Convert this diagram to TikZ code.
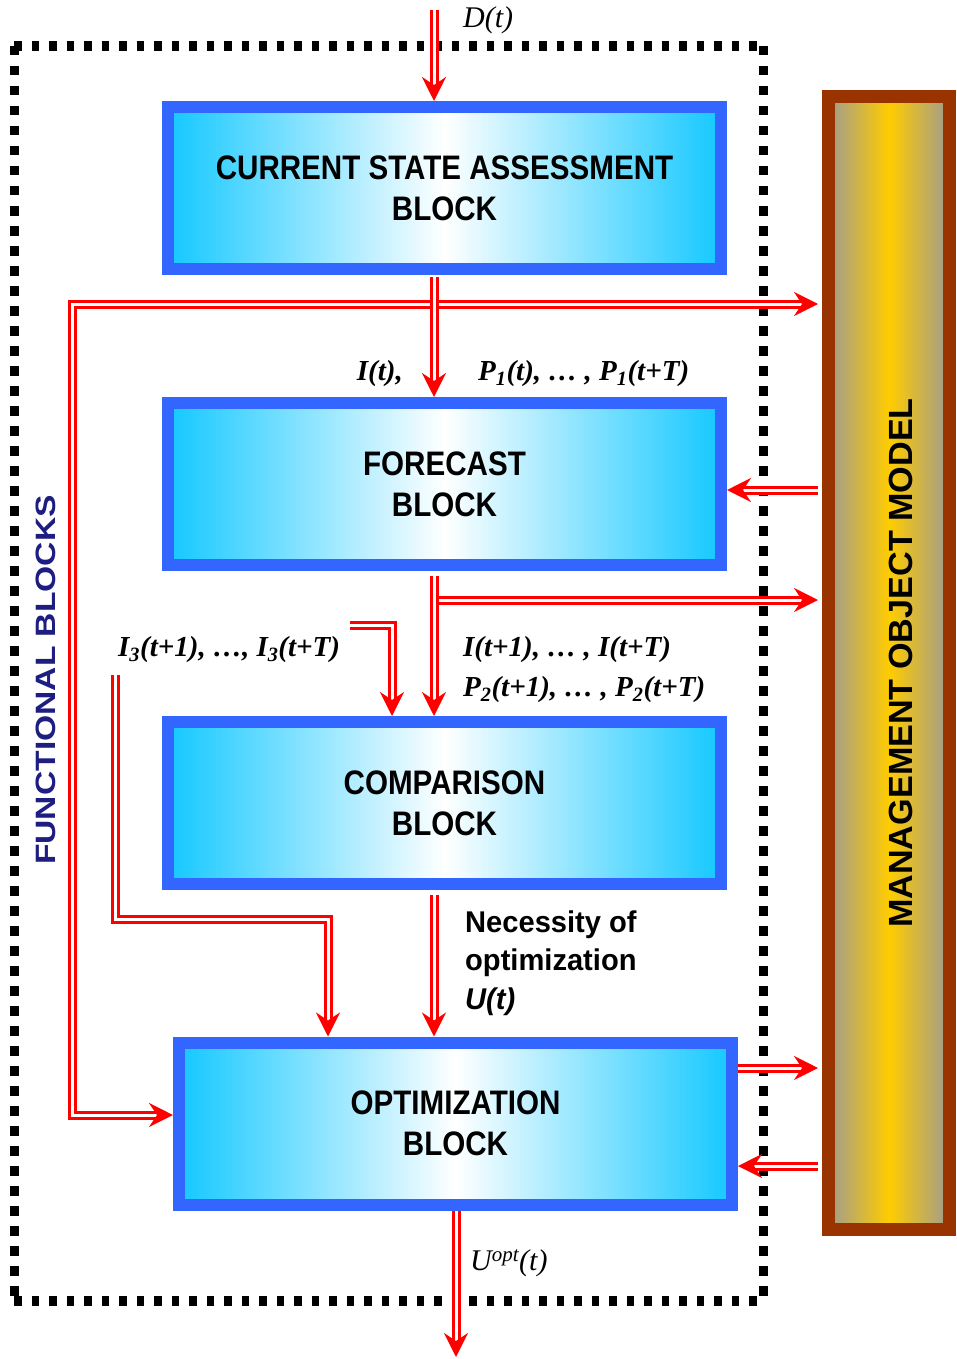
\documentclass[tikz,border=0pt]{standalone}
\usepackage{fontspec}
\setmainfont{Liberation Serif}
\newfontfamily\blkfont[FakeStretch=0.87]{Liberation Sans}
\newfontfamily\plainsans[FakeStretch=1.02]{Liberation Sans}
\newfontfamily\necsans[FakeStretch=0.97]{Liberation Sans}
\newfontfamily\widesans[FakeStretch=1.2]{Liberation Sans}
\usetikzlibrary{arrows.meta,calc}
\definecolor{blkblue}{RGB}{51,102,255}
\definecolor{cyanc}{RGB}{20,200,255}
\definecolor{brownc}{RGB}{153,51,0}
\definecolor{grayc}{RGB}{160,155,145}
\definecolor{goldc}{RGB}{255,204,0}
\definecolor{navyc}{RGB}{30,30,130}
\definecolor{redc}{RGB}{255,0,0}
\begin{document}
\begin{tikzpicture}[x=1pt,y=-1pt,
  blk/.style={draw=blkblue, line width=12pt, left color=cyanc, right color=cyanc, middle color=white,
    minimum width=553pt, minimum height=162pt, inner sep=0pt, outer sep=6pt, align=center,
    font=\blkfont\bfseries\fontsize{34}{41}\selectfont},
  mgmt/.style={draw=brownc, line width=13pt, left color=grayc, right color=grayc, middle color=goldc,
    minimum width=121pt, minimum height=1133pt, inner sep=0pt, outer sep=6.5pt},
  dbl/.style={draw=redc, line width=3pt, double=white, double distance=3pt},
  arr/.style={-{Stealth[length=24pt,width=24pt,inset=8pt]}},
  hdots/.style={draw=black, line width=10.5pt, dash pattern=on 7.5pt off 10pt},
  vdots/.style={draw=black, line width=9pt, dash pattern=on 9.5pt off 10.5pt},
  lab/.style={font=\bfseries\itshape\fontsize{29}{35}\selectfont, inner sep=0pt},
  labr/.style={font=\itshape\fontsize{30}{36}\selectfont, inner sep=0pt}
]
\useasboundingbox (0,0) rectangle (956,1359);

% dotted frame
\coordinate (f1) at (14,46);
\coordinate (f2) at (763,46);
\coordinate (f3) at (763,1301);
\coordinate (f4) at (14,1301);
\draw[hdots] (f1) -- (f2);
\draw[hdots] (f4) -- (f3);
\draw[vdots] (f1) -- (f4);
\draw[vdots] (f2) -- (f3);

% blocks
\node[blk] (b1) at (444.5,188) {CURRENT STATE ASSESSMENT\\BLOCK};
\node[blk] (b2) at (444.5,484) {FORECAST\\BLOCK};
\node[blk] (b3) at (444.5,803) {COMPARISON\\BLOCK};
\node[blk] (b4) at (455.5,1123.5) {OPTIMIZATION\\BLOCK};

% management object model
\node[mgmt] (m) at (889,663) {};
\node[rotate=90, font=\plainsans\bfseries\fontsize{33.5}{40}\selectfont, inner sep=0pt] (mt) at (901,663) {MANAGEMENT OBJECT MODEL};

% functional blocks label
\node[rotate=90, text=navyc, font=\widesans\bfseries\fontsize{28}{34}\selectfont, inner sep=0pt] (fb) at (46,680) {FUNCTIONAL BLOCKS};

% coordinates
\coordinate (dtop) at (434,10);
\coordinate (mr1) at (818,304);
\coordinate (l1) at (72,304);
\coordinate (l2) at (72,1115);
\coordinate (mr2) at (818,490);
\coordinate (j2) at (436,600);
\coordinate (mr3) at (818,600);
\coordinate (s1) at (350,625);
\coordinate (s2) at (392,625);
\coordinate (t1) at (115,675);
\coordinate (t2) at (115,919);
\coordinate (t3) at (328,919);
\coordinate (mr4) at (818,1068);
\coordinate (mr5) at (818,1166);
\coordinate (bot) at (456,1357);

% arrows
\draw[dbl,{Stealth[length=24pt,width=24pt,inset=8pt]}-{Stealth[length=24pt,width=24pt,inset=8pt]}]
  (mr1) -- (l1) -- (l2) -- (l2 -| b4.west);
\draw[dbl,arr] (dtop) -- (dtop |- b1.north);
\draw[dbl,arr] ($(dtop |- b1.south)+(0,2)$) -- (dtop |- b2.north);
\draw[dbl,arr] (mr2) -- (mr2 -| b2.east);
\draw[dbl,arr] (j2) -- (mr3);
\draw[dbl,arr] ($(dtop |- b2.south)+(0,5)$) -- (dtop |- b3.north);
\draw[dbl,arr] (s1) -- (s2) -- (s2 |- b3.north);
\draw[dbl,arr] (t1) -- (t2) -- (t3) -- (t3 |- b4.north);
\draw[dbl,arr] ($(dtop |- b3.south)+(0,5)$) -- (dtop |- b4.north);
\draw[dbl,arr] (mr4 -| b4.east) -- (mr4);
\draw[dbl,arr] (mr5) -- (mr5 -| b4.east);
\draw[dbl,arr] (bot |- b4.south) -- (bot);

% labels
\node[labr, anchor=west] (ld) at (463,20) {D(t)};
\node[lab, anchor=east] (li) at (403,374) {I(t),};
\node[lab, anchor=west] (lp1) at (478,374) {P\textsubscript{1}(t), … , P\textsubscript{1}(t+T)};
\node[lab, anchor=west] (li3) at (118,650) {I\textsubscript{3}(t+1), …, I\textsubscript{3}(t+T)};
\node[lab, anchor=west] (lit) at (463,650) {I(t+1), … , I(t+T)};
\node[lab, anchor=west] (lp2) at (463,690) {P\textsubscript{2}(t+1), … , P\textsubscript{2}(t+T)};
\node[anchor=west, align=left, inner sep=0pt, font=\necsans\bfseries\fontsize{30}{38.5}\selectfont] (nec) at (465,963)
  {Necessity of\\optimization\\\itshape U(t)};
\node[labr, anchor=west] (lu) at (470,1263) {U\textsuperscript{opt}(t)};
\end{tikzpicture}
\end{document}
